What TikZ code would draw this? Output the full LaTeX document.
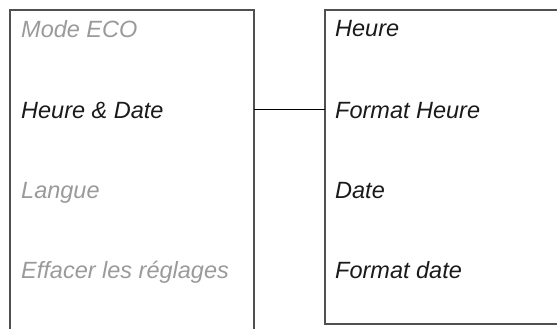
\documentclass[tikz,border=0pt]{standalone}
\usepackage{fontspec}
\setmainfont{Liberation Sans}
\definecolor{boxline}{HTML}{505050}
\definecolor{greytext}{HTML}{9A9A9A}
\definecolor{darktext}{HTML}{1A1A1A}
\begin{document}
\begin{tikzpicture}[x=1pt,y=-1pt,
  frame/.style={draw=boxline,line width=1.6pt},
  item/.style={anchor=base west,inner sep=0pt,font=\fontsize{23.5}{28}\selectfont\itshape},
  dim/.style={item,text=greytext},
  act/.style={item,text=darktext},
  link/.style={draw=black,line width=1pt}]
\useasboundingbox (0,0) rectangle (557,329);
\draw[frame] (10,330) -- (10,10) -- (254,10) -- (254,330);
\draw[frame] (558,10) -- (325,10) -- (325,324) -- (558,324);
\node[dim] (eco) at (21,38) {Mode ECO};
\node[act] (hd) at (21,118) {Heure \& Date};
\node[dim] (lang) at (21,198) {Langue};
\node[dim] (eff) at (21,278) {Effacer les réglages};
\node[act] (h) at (335,37) {Heure};
\node[act] (fh) at (335,118) {Format Heure};
\node[act] (d) at (335,198) {Date};
\node[act] (fd) at (335,278) {Format date};
\coordinate (cl) at (254,109.5);
\coordinate (cr) at (325,109.5);
\draw[link] (cl) -- (cr);
\end{tikzpicture}
\end{document}
